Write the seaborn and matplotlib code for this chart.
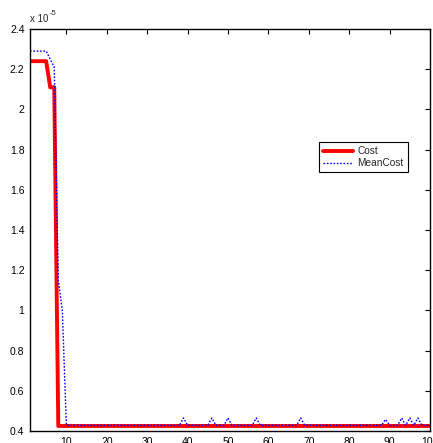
import matplotlib
matplotlib.use("Agg")
import matplotlib.pyplot as plt
import seaborn as sns
import pandas as pd
from matplotlib.ticker import FuncFormatter

# ---- data (values in units of 1e-5) ----
cost_x = [1, 5, 6, 7, 8, 100]
cost_y = [2.24, 2.24, 2.11, 2.11, 0.425, 0.425]

mean_x = [1, 5, 6, 7, 8, 9, 10,
          38, 39, 40, 45, 46, 47, 49, 50, 51, 56, 57, 58, 67, 68, 69,
          88, 89, 90, 92, 93, 94, 95, 96, 97, 98, 100]
mean_y = [2.29, 2.29, 2.25, 2.21, 1.15, 1.0, 0.428,
          0.428, 0.465, 0.428, 0.428, 0.465, 0.428, 0.428, 0.465, 0.428,
          0.428, 0.465, 0.428, 0.428, 0.465, 0.428,
          0.428, 0.458, 0.428, 0.428, 0.465, 0.428, 0.465, 0.428, 0.465, 0.428, 0.428]

scale = 1e-5
x_ticks = [10, 20, 30, 40, 50, 60, 70, 80, 90, 100]
y_ticks = [0.4, 0.6, 0.8, 1.0, 1.2, 1.4, 1.6, 1.8, 2.0, 2.2, 2.4]

sns.set_style("white")
plt.rcParams['font.family'] = ['Liberation Sans', 'DejaVu Sans']

df_cost = pd.DataFrame({"x": cost_x, "y": [v * scale for v in cost_y]})
df_mean = pd.DataFrame({"x": mean_x, "y": [v * scale for v in mean_y]})

fig = plt.figure(figsize=(4.33, 4.43), dpi=100)
ax = fig.add_axes([30 / 433, 1 - 431 / 443, 400 / 433, 402 / 443])

sns.lineplot(data=df_cost, x="x", y="y", ax=ax, color="#ff0000", lw=2.8,
             label="Cost", estimator=None, sort=False)
sns.lineplot(data=df_mean, x="x", y="y", ax=ax, color="#0000ff", lw=1.0,
             linestyle=(0, (1.2, 1.2)), label="MeanCost", estimator=None, sort=False)

ax.set_xlim(1, 100)
ax.set_ylim(0.4 * scale, 2.4 * scale)
ax.set_xticks(x_ticks)
ax.set_yticks([v * scale for v in y_ticks])
ax.yaxis.set_major_formatter(FuncFormatter(lambda v, p: f"{v / scale:g}"))
ax.set_xlabel("")
ax.set_ylabel("")

for s in ax.spines.values():
    s.set_visible(True)
    s.set_color("black")
    s.set_linewidth(1.0)

ax.tick_params(direction="in", length=3.5, width=0.8, top=True, right=True,
               labelsize=7.5, colors="black", pad=4)

fig.text(30 / 433, 1 - 22 / 443, "x 10", fontsize=7, ha="left", va="baseline")
fig.text(50 / 433, 1 - 15 / 443, "-5", fontsize=5.5, ha="left", va="baseline")

leg = ax.legend(loc="upper left", bbox_to_anchor=((319 - 30) / 400, 1 - (142 - 29) / 402),
                fontsize=7.3, frameon=True, fancybox=False, edgecolor="black",
                handlelength=3.0, borderpad=0.4, labelspacing=0.2, handletextpad=0.4,
                borderaxespad=0)
leg.get_frame().set_linewidth(0.8)
leg.get_frame().set_alpha(1)

fig.savefig("out.png", dpi=100)
